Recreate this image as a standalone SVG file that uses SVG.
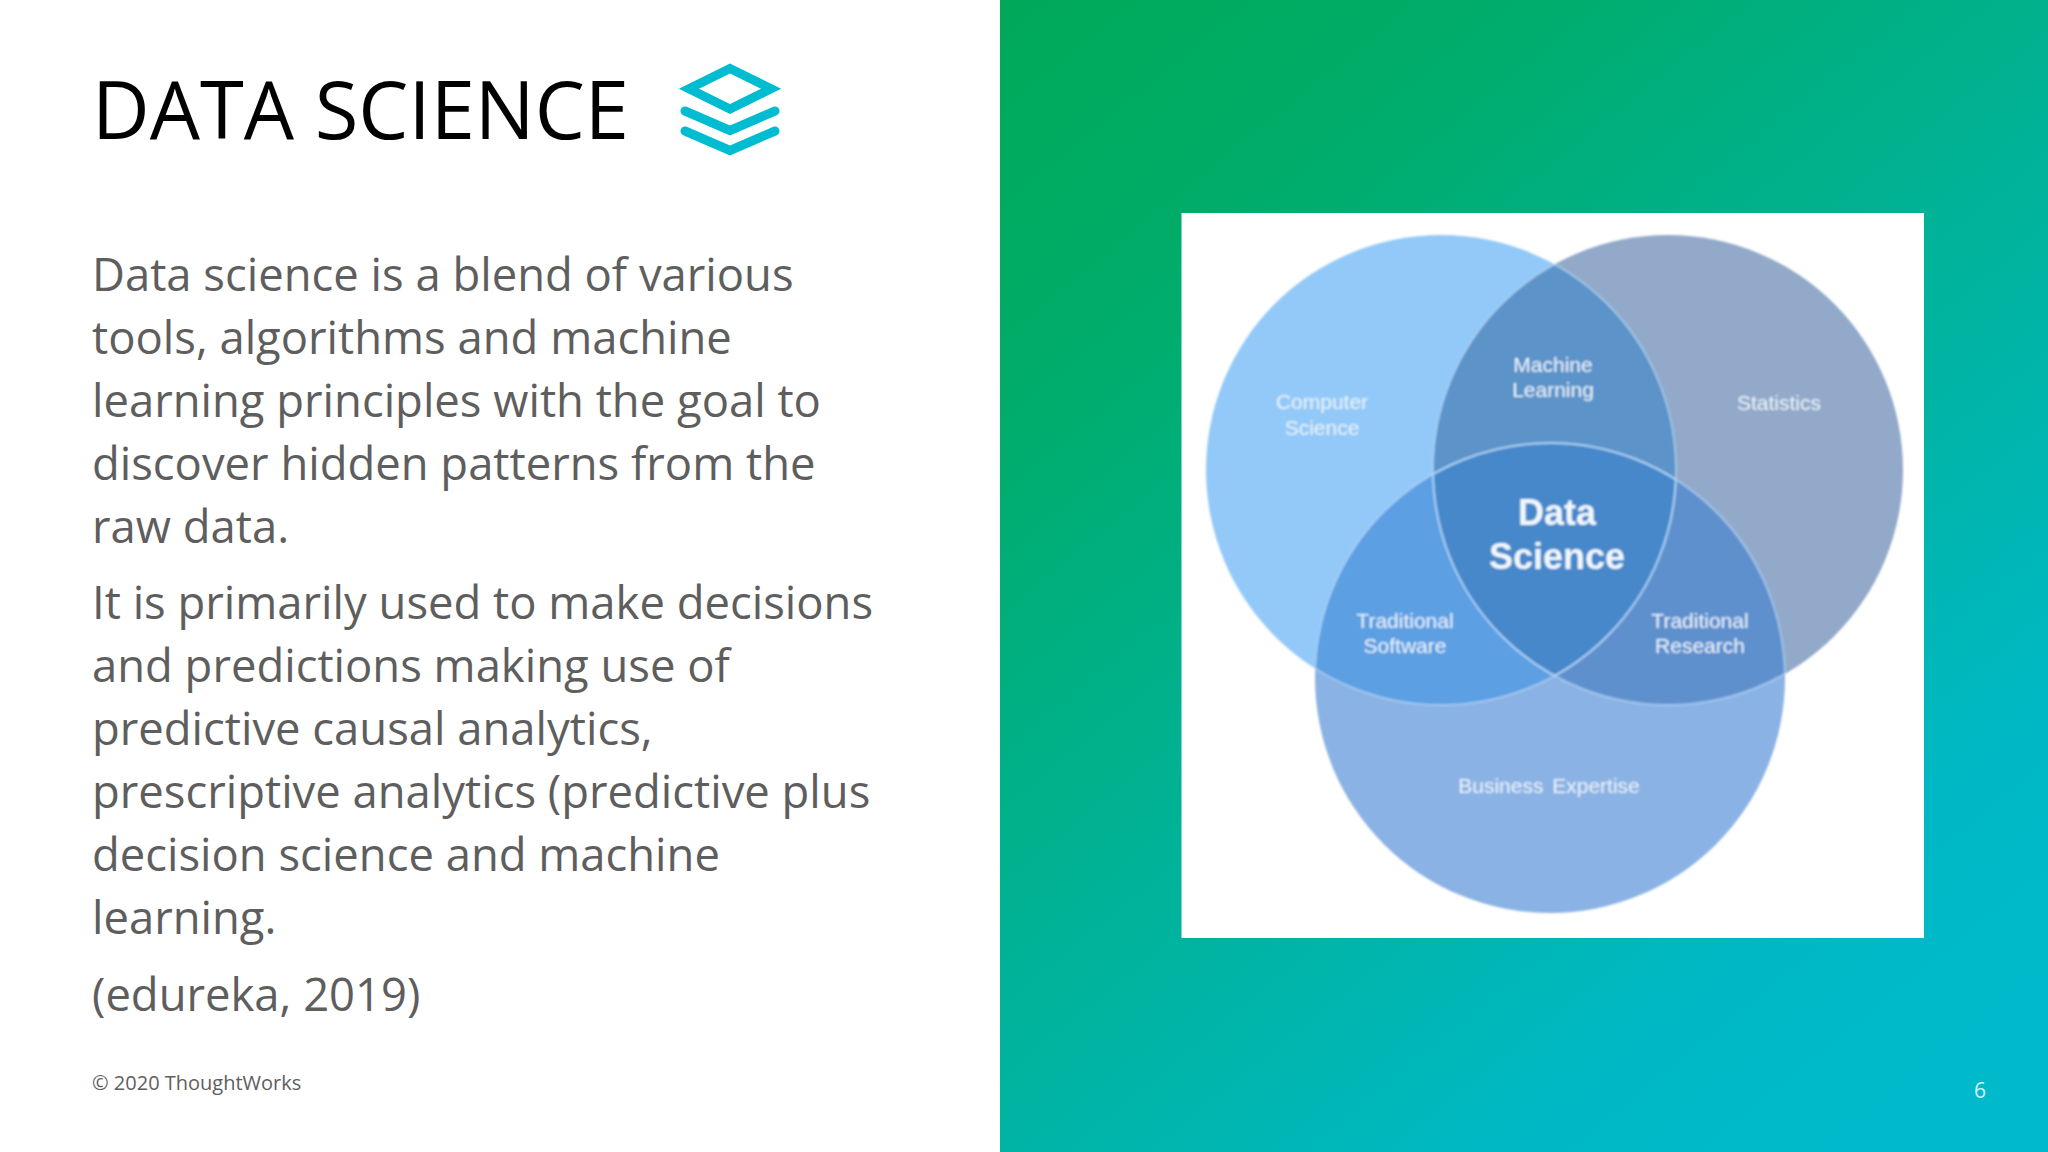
<svg xmlns="http://www.w3.org/2000/svg" width="2048" height="1152" viewBox="0 0 2048 1152">
<defs>
<linearGradient id="bg" gradientUnits="userSpaceOnUse" x1="1080" y1="-40" x2="1960" y2="1040">
<stop offset="0" stop-color="#00a95a"/><stop offset="0.2" stop-color="#00ac68"/><stop offset="0.85" stop-color="#00b8c4"/><stop offset="1" stop-color="#00bacb"/>
</linearGradient>
<clipPath id="cL"><circle cx="1441" cy="470" r="235"/></clipPath>
<clipPath id="cR"><circle cx="1668" cy="470" r="235"/></clipPath>
<clipPath id="cB"><circle cx="1550" cy="678" r="235"/></clipPath>
<filter id="soft" x="-5%" y="-5%" width="110%" height="110%"><feGaussianBlur stdDeviation="0.9"/></filter>
</defs>
<style>
.body{font-family:"Open Sans",sans-serif;font-size:45.4px;fill:#5e5e5e}
.v{font-family:"Liberation Sans",Arial,sans-serif;font-size:21px;fill:#eaf3fb;text-anchor:middle}
.b{font-family:"Liberation Sans",Arial,sans-serif;font-size:36px;font-weight:bold;fill:#f2f8fd;text-anchor:middle}
.arc{fill:none;stroke:#b4d6f6;stroke-width:2;stroke-opacity:.65}
.ic{fill:none;stroke:#00bcd0;stroke-width:9;stroke-linecap:round}
</style>
<rect width="2048" height="1152" fill="#ffffff"/>
<rect x="1000" y="0" width="1048" height="1152" fill="url(#bg)"/>
<g id="title">
<text x="92" y="139" font-family="Open Sans, sans-serif" font-size="80" fill="#000000" textLength="537" lengthAdjust="spacingAndGlyphs">DATA SCIENCE</text>
</g>
<g id="icon">
<polygon class="ic" points="730,68.5 771,88.8 730,109 689,88.8"/>
<polyline class="ic" points="685,111 730,130.5 775,111"/>
<polyline class="ic" points="685,131 730,150.5 775,131"/>
</g>
<g id="body">
<text class="body" x="92" y="291">Data science is a blend of various</text>
<text class="body" x="92" y="354">tools, algorithms and machine</text>
<text class="body" x="92" y="417">learning principles with the goal to</text>
<text class="body" x="92" y="480">discover hidden patterns from the</text>
<text class="body" x="92" y="543">raw data.</text>
<text class="body" x="92" y="619">It is primarily used to make decisions</text>
<text class="body" x="92" y="682">and predictions making use of</text>
<text class="body" x="92" y="745">predictive causal analytics,</text>
<text class="body" x="92" y="808">prescriptive analytics (predictive plus</text>
<text class="body" x="92" y="871">decision science and machine</text>
<text class="body" x="92" y="934">learning.</text>
<text class="body" x="92" y="1011">(edureka, 2019)</text>
</g>
<g id="footer">
<text x="92" y="1090" font-family="Open Sans, sans-serif" font-size="20" fill="#5e5e5e">© 2020 ThoughtWorks</text>
<text x="1974" y="1098" font-family="Open Sans, sans-serif" font-size="21" fill="#d5f3f3">6</text>
</g>
<rect id="panel" x="1181.5" y="213" width="742.5" height="725" fill="#ffffff"/>
<g id="venn" filter="url(#soft)">
<g id="circle-computer-science"><circle cx="1441" cy="470" r="235" fill="#93c9f8"/></g>
<g id="circle-statistics"><circle cx="1668" cy="470" r="235" fill="#92a9c9"/></g>
<g id="circle-business"><circle cx="1550" cy="678" r="235" fill="#8ab2e4"/></g>
<g clip-path="url(#cL)"><circle cx="1668" cy="470" r="235" fill="#5c93c9"/></g>
<g clip-path="url(#cL)"><circle cx="1550" cy="678" r="235" fill="#5b9fe3"/></g>
<g clip-path="url(#cR)"><circle cx="1550" cy="678" r="235" fill="#5f90ce"/></g>
<g clip-path="url(#cL)"><g clip-path="url(#cR)"><circle cx="1550" cy="678" r="235" fill="#4788cb"/></g></g>
<g id="connectors">
<g clip-path="url(#cL)"><circle class="arc" cx="1668" cy="470" r="235"/><circle class="arc" cx="1550" cy="678" r="235"/></g>
<g clip-path="url(#cR)"><circle class="arc" cx="1441" cy="470" r="235"/><circle class="arc" cx="1550" cy="678" r="235"/></g>
<g clip-path="url(#cB)"><circle class="arc" cx="1441" cy="470" r="235"/><circle class="arc" cx="1668" cy="470" r="235"/></g>
</g>
<text class="v" x="1322" y="409">Computer</text>
<text class="v" x="1322" y="435">Science</text>
<text class="v" x="1553" y="372">Machine</text>
<text class="v" x="1553" y="397">Learning</text>
<text class="v" x="1779" y="410">Statistics</text>
<text class="b" x="1557" y="525">Data</text>
<text class="b" x="1557" y="569">Science</text>
<text class="v" x="1405" y="628">Traditional</text>
<text class="v" x="1405" y="653">Software</text>
<text class="v" x="1700" y="628">Traditional</text>
<text class="v" x="1700" y="653">Research</text>
<text class="v" x="1549" y="793" word-spacing="3">Business Expertise</text>
</g>
</svg>
